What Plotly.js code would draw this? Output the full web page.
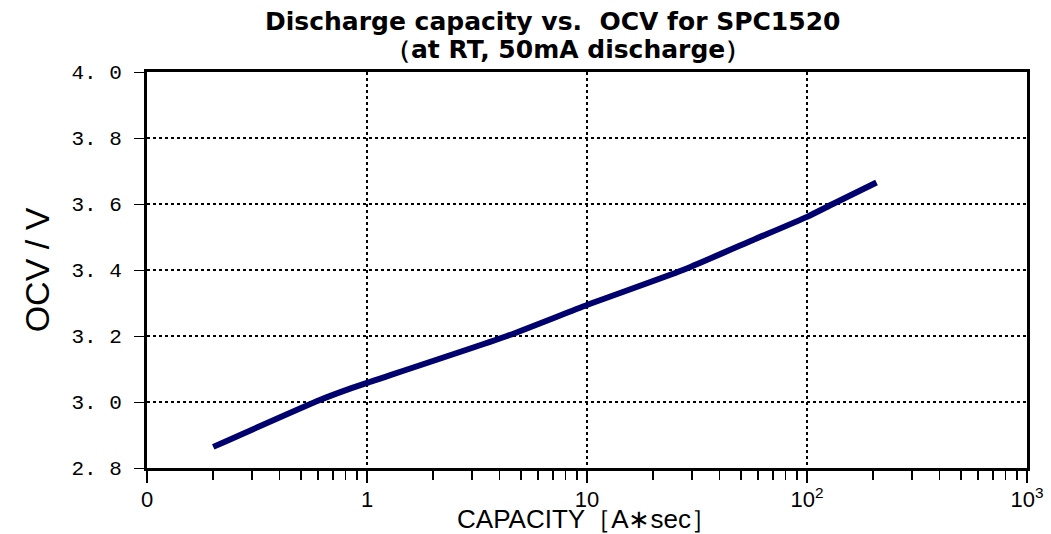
<!DOCTYPE html>
<html>
<head>
<meta charset="utf-8">
<script src="https://cdn.plot.ly/plotly-3.0.1.min.js"></script>
<style>html,body{margin:0;padding:0;background:#fff;}#chart{width:1051px;height:534px;}</style>
</head>
<body>
<div id="chart"></div>
<script>
// Data
const capacity = [0.2, 0.61, 0.85, 1.0, 4.33, 10, 27.3, 56.9, 100, 131, 207];
const ocv      = [2.864, 3.006, 3.042, 3.058, 3.2, 3.294, 3.4, 3.491, 3.561, 3.6, 3.665];

const xTickVals = [0.1, 1, 10, 100, 1000];
const xTickText = ["0", "1", "10", "10<sup>2</sup>", "10<sup>3</sup>"];
const xMinorVals = [0.2, 0.3, 0.4, 0.5, 0.6, 0.7, 0.8, 0.9,
                    2, 3, 4, 5, 6, 7, 8, 9,
                    20, 30, 40, 50, 60, 70, 80, 90,
                    200, 300, 400, 500, 600, 700, 800, 900];
const yTickVals = [2.8, 3.0, 3.2, 3.4, 3.6, 3.8, 4.0];
const yTickText = ["2. 8", "3. 0", "3. 2", "3. 4", "3. 6", "3. 8", "4. 0"];
const titleLines = ["Discharge capacity vs.  OCV for SPC1520", "（at RT, 50mA discharge）"];

const sans = "Liberation Sans, Arial, sans-serif";
const titleFont = "DejaVu Sans, Liberation Sans, Arial, sans-serif";

const trace = {
  x: capacity, y: ocv, type: "scatter", mode: "lines",
  line: {color: "#00006e", width: 6, shape: "spline", smoothing: 0.5},
  hoverinfo: "skip"
};

const layout = {
  width: 1051, height: 534,
  margin: {l: 147, r: 24, t: 72, b: 66},
  paper_bgcolor: "#fff", plot_bgcolor: "#fff",
  showlegend: false,
  annotations: [
    {text: titleLines[0], xref: "paper", yref: "paper", x: 0.461, y: 1.0, yshift: 51,
     xanchor: "center", yanchor: "middle", showarrow: false,
     font: {family: titleFont, size: 25, color: "#000", weight: "bold"}},
    {text: titleLines[1], xref: "paper", yref: "paper", x: 0.478, y: 1.0, yshift: 23,
     xanchor: "center", yanchor: "middle", showarrow: false,
     font: {family: titleFont, size: 25, color: "#000", weight: "bold"}}
  ],
  xaxis: {
    type: "log", range: [-1, 3],
    tickmode: "array", tickvals: xTickVals, ticktext: xTickText,
    ticks: "outside", ticklen: 12, tickwidth: 1.5, tickcolor: "#000",
    minor: {tickmode: "array", tickvals: xMinorVals, ticks: "outside", ticklen: 9, tickwidth: 1.5, tickcolor: "#000", showgrid: false},
    showgrid: true, gridcolor: "#000", griddash: "dot", gridwidth: 2,
    showline: true, linecolor: "#000", linewidth: 3, mirror: true,
    zeroline: false,
    ticklabelstandoff: -2,
    tickfont: {family: sans, size: 22, color: "#000"},
    title: {text: "CAPACITY［A∗sec］", font: {family: sans, size: 26, color: "#000"}, standoff: 6}
  },
  yaxis: {
    range: [2.8, 4.0],
    tickmode: "array", tickvals: yTickVals, ticktext: yTickText,
    ticks: "outside", ticklen: 10, tickwidth: 1, tickcolor: "#000",
    showgrid: true, gridcolor: "#000", griddash: "dot", gridwidth: 2,
    showline: true, linecolor: "#000", linewidth: 3, mirror: true,
    zeroline: false,
    ticklabelstandoff: 8,
    tickfont: {family: "Liberation Mono, Courier New, monospace", size: 21, color: "#000"},
    title: {text: "OCV / V", font: {family: sans, size: 34, color: "#000"}, standoff: 12}
  }
};

Plotly.newPlot("chart", [trace], layout, {displayModeBar: false, staticPlot: true});
</script>
</body>
</html>
